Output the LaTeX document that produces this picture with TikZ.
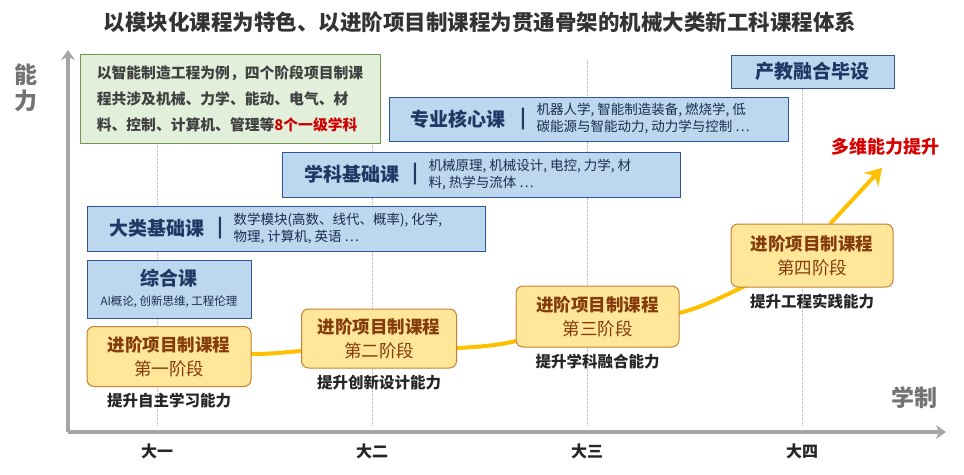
\documentclass[tikz,border=0pt]{standalone}
\usepackage{fontspec}
\setmainfont{Noto Sans CJK SC}
\newcommand\cjkbold{\bfseries}
\usetikzlibrary{positioning}
\usetikzlibrary{arrows.meta}
\definecolor{boxblue}{RGB}{189,215,238}
\definecolor{lineblue}{RGB}{47,85,151}
\definecolor{textblue}{RGB}{31,56,100}
\definecolor{boxgreen}{RGB}{226,239,218}
\definecolor{linegreen}{RGB}{112,150,80}
\definecolor{boxyellow}{RGB}{255,230,153}
\definecolor{lineyellow}{RGB}{196,130,50}
\definecolor{textbrown}{RGB}{132,60,12}
\definecolor{curveorange}{RGB}{255,192,0}
\definecolor{axisgray}{RGB}{166,166,166}
\tikzset{
    coursebox/.style={draw=lineblue, fill=boxblue, line width=1pt, inner sep=0pt},
    coursetitle/.style={font=\cjkbold\fontsize{19}{22}\selectfont, text=textblue},
    coursetext/.style={anchor=west, align=left, font=\fontsize{13.5}{17}\selectfont, text=textblue!80!black},
    stagebox/.style={draw=lineyellow, fill=boxyellow, line width=1pt, rounded corners=7pt,
        minimum width=#1, minimum height=60pt, align=center, text=textbrown, font=\fontsize{17.5}{24}\selectfont},
    ablabel/.style={font=\cjkbold\fontsize{15.5}{18}\selectfont, text=black!85},
    yearlabel/.style={font=\cjkbold\fontsize{16}{18}\selectfont, text=black!85},
    guide/.style={densely dotted, draw=black!25, line width=0.6pt}
}
\begin{document}
\begin{tikzpicture}[x=1pt, y=-1pt]
    \useasboundingbox (0,0) rectangle (964,474);
    \node[font=\cjkbold\fontsize{21.5}{24}\selectfont, text=black!80] (title) at (480,22)
        {以模块化课程为特色、以进阶项目制课程为贯通骨架的机械大类新工科课程体系};

    % guides
    \foreach \gx/\yr in {157/大一, 372/大二, 587/大三, 802/大四}{
        \draw[guide] (\gx,60) -- (\gx,426);
        \node[yearlabel] at (\gx,451) {\yr};
    }

    % axes
    \coordinate (origin) at (68,432);
    \coordinate (ytip) at (68,50);
    \coordinate (xtip) at (946,432);
    \draw[axisgray, line width=4pt, -{Stealth[length=10pt,width=14pt]}] (origin) -- (ytip);
    \draw[axisgray, line width=4pt, -{Stealth[length=10pt,width=14pt]}] (origin) -- (xtip);
    \node[font=\cjkbold\fontsize{23}{26}\selectfont, text=black!55, align=center] (ylab) at (26,88) {能\\力};
    \node[font=\cjkbold\fontsize{23}{26}\selectfont, text=black!55] (xlab) at (914,398) {学制};

    % green note
    \node[draw=linegreen, fill=boxgreen, line width=1pt, minimum width=300pt, minimum height=89pt,
        align=left, font=\cjkbold\fontsize{14.8}{26}\selectfont, text=black!75] (note) at (230,98.5)
        {以智能制造工程为例，四个阶段项目制课\\程共涉及机械、力学、能动、电气、材\\料、控制、计算机、管理等\textcolor{red!80!black}{8个一级学科}};

    % course boxes
    \node[coursebox, minimum width=163pt, minimum height=33pt] (thesis) at (812.5,71.5) {};
    \node[coursetitle] at (thesis) {产教融合毕设};

    \node[coursebox, minimum width=399pt, minimum height=44pt] (core) at (588.5,119) {};
    \node[coursetitle] at (458,119) {专业核心课};
    \node[coursetitle] at (523,119) {|};
    \node[coursetext] at (533,119)
        {机器人学, 智能制造装备, 燃烧学, 低\\碳能源与智能动力, 动力学与控制 …};

    \node[coursebox, minimum width=398pt, minimum height=45pt] (subject) at (481,174.5) {};
    \node[coursetitle] at (352,174.5) {学科基础课};
    \node[coursetitle] at (415,174.5) {|};
    \node[coursetext] at (425,174.5)
        {机械原理, 机械设计, 电控, 力学, 材\\料, 热学与流体 …};

    \node[coursebox, minimum width=398pt, minimum height=45pt] (general) at (286,228.5) {};
    \node[coursetitle] at (157,228.5) {大类基础课};
    \node[coursetitle] at (220,228.5) {|};
    \node[coursetext] at (230,228.5)
        {数学模块(高数、线代、概率), 化学,\\物理, 计算机, 英语 …};

    \node[coursebox, minimum width=164pt, minimum height=58pt] (synth) at (169,289) {};
    \node[coursetitle] at (169,278) {综合课};
    \node[font=\fontsize{11.5}{13}\selectfont, text=textblue!80!black] at (169,302) {AI概论, 创新思维, 工程伦理};

    % growth curve
    \draw[curveorange, line width=4pt] (251,354) .. controls (275,354) and (285,352) .. (302,351);
    \draw[curveorange, line width=4pt] (456,348) .. controls (480,347) and (500,345) .. (516,341);
    \draw[curveorange, line width=4pt] (679,313) .. controls (700,308) and (720,298) .. (745,286);
    \coordinate (peak) at (882,168);
    \draw[curveorange, line width=4pt, -{Stealth[length=16pt,width=20pt]}] (830,224) -- (peak);

    % stages
    \node[stagebox=164pt] (s1) at (169,356.5) {{\cjkbold 进阶项目制课程}\\第一阶段};
    \node[stagebox=155pt, minimum height=59pt] (s2) at (379,338.5) {{\cjkbold 进阶项目制课程}\\第二阶段};
    \node[stagebox=163pt, minimum height=61pt] (s3) at (597.5,316.5) {{\cjkbold 进阶项目制课程}\\第三阶段};
    \node[stagebox=162pt, minimum height=63pt] (s4) at (812,255.5) {{\cjkbold 进阶项目制课程}\\第四阶段};

    \node[ablabel, below=3pt of s1] (a1) {提升自主学习能力};
    \node[ablabel, below=3pt of s2] (a2) {提升创新设计能力};
    \node[ablabel, below=3pt of s3] (a3) {提升学科融合能力};
    \node[ablabel, below=3pt of s4] (a4) {提升工程实践能力};

    \node[font=\cjkbold\fontsize{18}{21}\selectfont, text=red!85!black] (boost) at (885,147) {多维能力提升};
\end{tikzpicture}
\end{document}
